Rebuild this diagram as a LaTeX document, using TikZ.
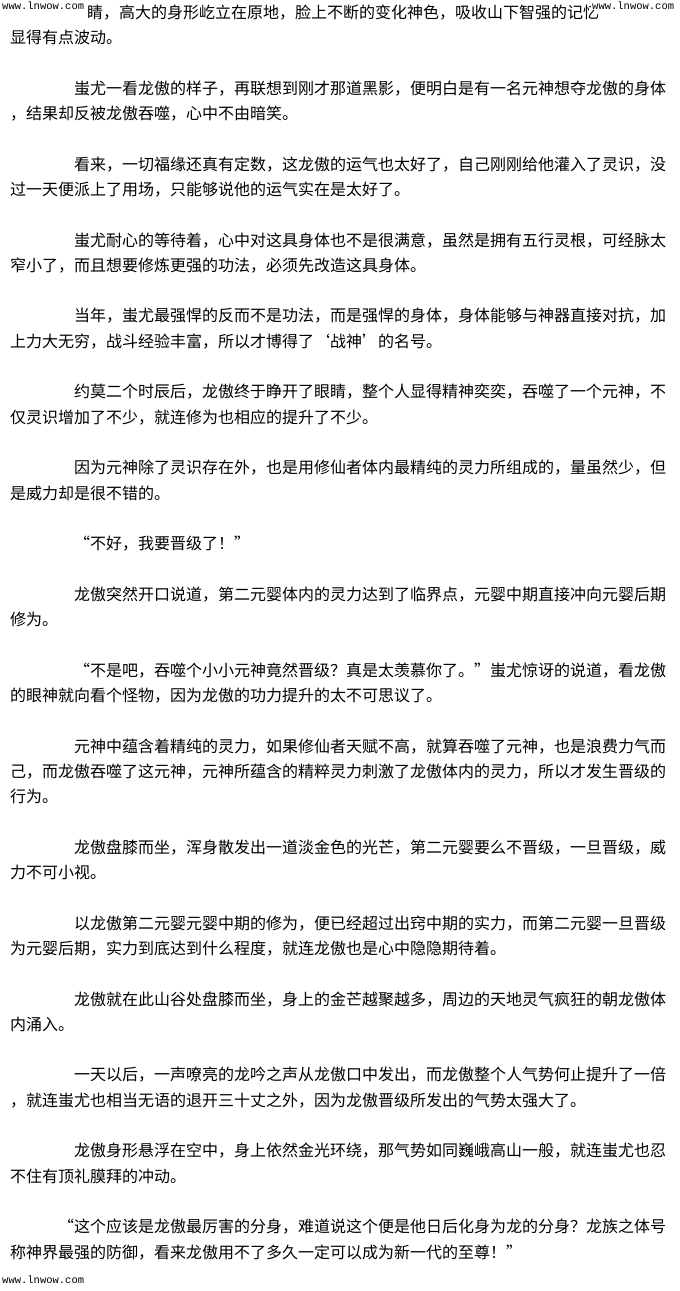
\documentclass[tikz,border=0pt]{standalone}
\usepackage{fontspec}
\newfontfamily\cjk{Noto Sans CJK SC}
\newfontfamily\wmfont{Liberation Mono}
\newcommand\lqt{\makebox[1em][r]{“}}
\newcommand\rqt{\makebox[1em][l]{”}}
\newcommand\lsq{\makebox[1em][r]{‘}}
\newcommand\rsq{\makebox[1em][l]{’}}
\begin{document}
\begin{tikzpicture}[x=1pt,y=-1pt,
    ln/.style={anchor=base west,inner sep=0pt,font=\cjk\fontsize{16}{20}\selectfont},
    wm/.style={anchor=base west,inner sep=1pt,fill=white,font=\wmfont\fontsize{10.5}{12}\selectfont}]
    \useasboundingbox[fill=white] (0,0) rectangle (680,1291);
    % first line, cut at the top
    \node[ln] (r1) at (87,18.3) {睛，高大的身形屹立在原地，脸上不断的变化神色，吸收山下智强的记忆};
    \node[wm] (wtl) at (1,9) {www.lnwow.com};
    \node[wm] (wtr) at (591,9) {www.lnwow.com};
    \node[ln] (r2) at (10,43.6) {显得有点波动。};
    \node[ln] (r4) at (74,94.2) {蚩尤一看龙傲的样子，再联想到刚才那道黑影，便明白是有一名元神想夺龙傲的身体};
    \node[ln] (r5) at (10,119.5) {，结果却反被龙傲吞噬，心中不由暗笑。};
    \node[ln] (r7) at (74,170.1) {看来，一切福缘还真有定数，这龙傲的运气也太好了，自己刚刚给他灌入了灵识，没};
    \node[ln] (r8) at (10,195.4) {过一天便派上了用场，只能够说他的运气实在是太好了。};
    \node[ln] (r10) at (74,246.0) {蚩尤耐心的等待着，心中对这具身体也不是很满意，虽然是拥有五行灵根，可经脉太};
    \node[ln] (r11) at (10,271.3) {窄小了，而且想要修炼更强的功法，必须先改造这具身体。};
    \node[ln] (r13) at (74,321.9) {当年，蚩尤最强悍的反而不是功法，而是强悍的身体，身体能够与神器直接对抗，加};
    \node[ln] (r14) at (10,347.2) {上力大无穷，战斗经验丰富，所以才博得了\lsq 战神\rsq 的名号。};
    \node[ln] (r16) at (74,397.8) {约莫二个时辰后，龙傲终于睁开了眼睛，整个人显得精神奕奕，吞噬了一个元神，不};
    \node[ln] (r17) at (10,423.1) {仅灵识增加了不少，就连修为也相应的提升了不少。};
    \node[ln] (r19) at (74,473.7) {因为元神除了灵识存在外，也是用修仙者体内最精纯的灵力所组成的，量虽然少，但};
    \node[ln] (r20) at (10,499.0) {是威力却是很不错的。};
    \node[ln] (r22) at (74,549.6) {\lqt 不好，我要晋级了！\rqt};
    \node[ln] (r24) at (74,600.2) {龙傲突然开口说道，第二元婴体内的灵力达到了临界点，元婴中期直接冲向元婴后期};
    \node[ln] (r25) at (10,625.5) {修为。};
    \node[ln] (r27) at (74,676.1) {\lqt 不是吧，吞噬个小小元神竟然晋级？真是太羡慕你了。\rqt 蚩尤惊讶的说道，看龙傲};
    \node[ln] (r28) at (10,701.4) {的眼神就向看个怪物，因为龙傲的功力提升的太不可思议了。};
    \node[ln] (r30) at (74,752.0) {元神中蕴含着精纯的灵力，如果修仙者天赋不高，就算吞噬了元神，也是浪费力气而};
    \node[ln] (r31) at (10,777.3) {己，而龙傲吞噬了这元神，元神所蕴含的精粹灵力刺激了龙傲体内的灵力，所以才发生晋级的};
    \node[ln] (r32) at (10,802.6) {行为。};
    \node[ln] (r34) at (74,853.2) {龙傲盘膝而坐，浑身散发出一道淡金色的光芒，第二元婴要么不晋级，一旦晋级，威};
    \node[ln] (r35) at (10,878.5) {力不可小视。};
    \node[ln] (r37) at (74,929.1) {以龙傲第二元婴元婴中期的修为，便已经超过出窍中期的实力，而第二元婴一旦晋级};
    \node[ln] (r38) at (10,954.4) {为元婴后期，实力到底达到什么程度，就连龙傲也是心中隐隐期待着。};
    \node[ln] (r40) at (74,1005.0) {龙傲就在此山谷处盘膝而坐，身上的金芒越聚越多，周边的天地灵气疯狂的朝龙傲体};
    \node[ln] (r41) at (10,1030.3) {内涌入。};
    \node[ln] (r43) at (74,1080.9) {一天以后，一声嘹亮的龙吟之声从龙傲口中发出，而龙傲整个人气势何止提升了一倍};
    \node[ln] (r44) at (10,1106.2) {，就连蚩尤也相当无语的退开三十丈之外，因为龙傲晋级所发出的气势太强大了。};
    \node[ln] (r46) at (74,1156.8) {龙傲身形悬浮在空中，身上依然金光环绕，那气势如同巍峨高山一般，就连蚩尤也忍};
    \node[ln] (r47) at (10,1182.1) {不住有顶礼膜拜的冲动。};
    \node[ln] (r49) at (58,1232.7) {\lqt 这个应该是龙傲最厉害的分身，难道说这个便是他日后化身为龙的分身？龙族之体号};
    \node[ln] (r50) at (10,1258.0) {称神界最强的防御，看来龙傲用不了多久一定可以成为新一代的至尊！\rqt};
    \node[wm] (wbl) at (1,1283) {www.lnwow.com};
\end{tikzpicture}
\end{document}
